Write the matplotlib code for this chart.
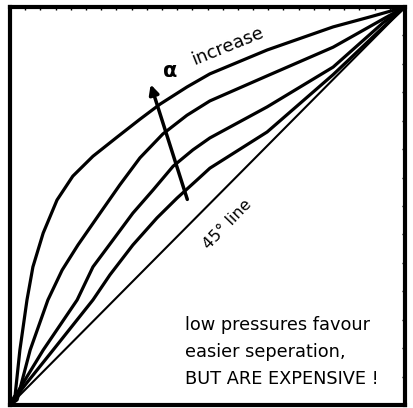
import numpy as np
import matplotlib
matplotlib.use('Agg')
import matplotlib.pyplot as plt

# x-y equilibrium curves (fractions of the box)
x_a = [0, 0.013, 0.025, 0.043, 0.058, 0.084, 0.119, 0.159, 0.210, 0.271, 0.329, 0.380,
       0.448, 0.506, 0.651, 0.818, 0.911, 1.0]
y_a = [0, 0.025, 0.138, 0.264, 0.347, 0.432, 0.515, 0.575, 0.625, 0.673, 0.718, 0.756,
       0.799, 0.832, 0.892, 0.950, 0.975, 1.0]

x_b = [0, 0.018, 0.051, 0.096, 0.132, 0.172, 0.228, 0.278, 0.329, 0.387, 0.448, 0.506,
       0.651, 0.818, 0.954, 1.0]
y_b = [0, 0.013, 0.138, 0.264, 0.339, 0.402, 0.482, 0.553, 0.621, 0.681, 0.728, 0.764,
       0.827, 0.899, 0.975, 1.0]

x_c = [0, 0.030, 0.084, 0.170, 0.210, 0.261, 0.311, 0.362, 0.413, 0.463, 0.506, 0.651,
       0.818, 0.944, 1.0]
y_c = [0, 0.050, 0.138, 0.264, 0.347, 0.415, 0.482, 0.540, 0.600, 0.641, 0.671, 0.749,
       0.849, 0.960, 1.0]

x_d = [0, 0.038, 0.109, 0.210, 0.253, 0.311, 0.372, 0.423, 0.473, 0.506, 0.651, 0.818,
       0.937, 1.0]
y_d = [0, 0.050, 0.138, 0.264, 0.327, 0.402, 0.470, 0.520, 0.565, 0.595, 0.686, 0.830,
       0.942, 1.0]

x_diag = [0, 1]
y_diag = [0, 1]

arrow_tail = (0.451, 0.510)
arrow_head = (0.354, 0.812)

note_lines = ['low pressures favour', 'easier seperation,', 'BUT ARE EXPENSIVE !']

fig = plt.figure(figsize=(4.13, 4.08), dpi=100)
ax = fig.add_axes([10 / 413, 3 / 408, 395 / 413, 398 / 408])

for xs, ys in [(x_a, y_a), (x_b, y_b), (x_c, y_c), (x_d, y_d)]:
    ax.plot(xs, ys, color='black', lw=2.3, solid_capstyle='round', solid_joinstyle='round')
ax.plot(x_diag, y_diag, color='black', lw=1.5)

ax.annotate('', xy=arrow_head, xytext=arrow_tail,
            arrowprops=dict(arrowstyle='-|>', color='black', lw=2.5, mutation_scale=14))

ax.text(0.405, 0.839, 'α', fontsize=15, fontweight='bold', ha='center', va='center')
ax.text(0.552, 0.903, 'increase', fontsize=13, rotation=22, ha='center', va='center')
ax.text(0.550, 0.455, '45° line', fontsize=11.5, rotation=46, ha='center', va='center')

for i, line in enumerate(note_lines):
    ax.text(0.443, 0.201 - i * 0.068, line, fontsize=12.8, ha='left', va='center')

ax.set_xlim(0, 1)
ax.set_ylim(0, 1)
for s in ax.spines.values():
    s.set_linewidth(3)
ax.tick_params(which='both', direction='in', length=2, width=1,
               top=True, right=True, bottom=False, left=False,
               labelbottom=False, labelleft=False)
ax.set_xticks(np.linspace(0, 1, 27))
ax.set_yticks(np.linspace(0, 1, 15))

fig.savefig('out.png', dpi=100)
